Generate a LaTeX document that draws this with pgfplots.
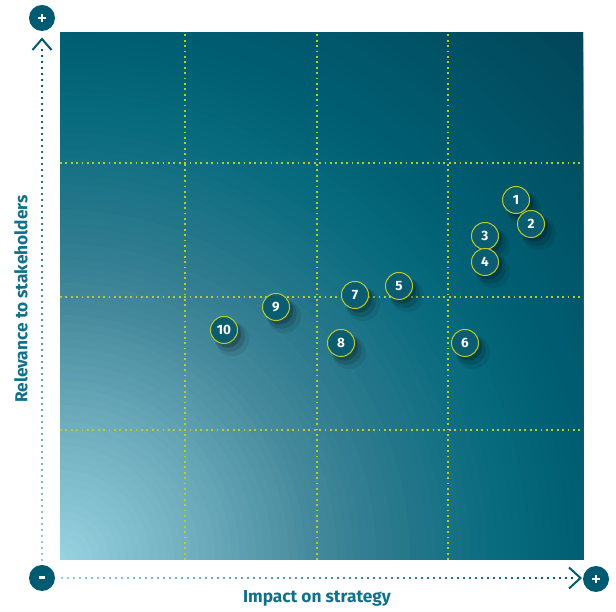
\documentclass[border=0pt]{standalone}
\usepackage{pgfplots}
\pgfplotsset{compat=1.18}
\usepackage{pgfplotstable}
\usepackage{fontspec}
\setmainfont{Fira Sans}
\usetikzlibrary{shadows}
\definecolor{sA}{HTML}{98D4E2}
\definecolor{sB}{HTML}{72B0C0}
\definecolor{sC}{HTML}{43899B}
\definecolor{sD}{HTML}{2E7B8F}
\definecolor{sE}{HTML}{086B7E}
\definecolor{sF}{HTML}{005F73}
\definecolor{sG}{HTML}{024458}
\definecolor{gridc}{HTML}{B9CC2A}
\definecolor{dotc}{HTML}{0A5C70}
\definecolor{ringc}{HTML}{BFCB26}
\definecolor{labc}{HTML}{10718A}
\definecolor{darkc}{HTML}{005B70}
\definecolor{lightc}{HTML}{8FCFDC}

% ring-by-ring radial gradient from the lower left corner of the plot area
\newcommand\ringgrad[5]{%
  \foreach \j in {0,...,#5}{%
    \pgfmathsetmacro\rr{#1-(#1-#2)*\j/#5}%
    \pgfmathsetmacro\pp{100*\j/#5}%
    \fill[#4!\pp!#3] (0,0) circle [radius=\rr*523pt];%
  }%
}

\pgfplotstableread{
x y label
516 412 1
531 388 2
485 376 3
485 350 4
399 326 5
465 269 6
355 317 7
341 269 8
276 305 9
224 282 10
}\topics

\begin{document}
\begin{tikzpicture}
\begin{scope}
  \clip (0,0) rectangle (523pt,527pt);
  \ringgrad{1.45}{1.0}{sG}{sF}{24}
  \ringgrad{1.0}{0.85}{sF}{sE}{10}
  \ringgrad{0.85}{0.62}{sE}{sD}{14}
  \ringgrad{0.62}{0.5}{sD}{sC}{8}
  \ringgrad{0.5}{0.25}{sC}{sB}{16}
  \ringgrad{0.25}{0.0}{sB}{sA}{16}
\end{scope}
\begin{axis}[
  at={(0,0)}, anchor=south west,
  scale only axis, width=523pt, height=527pt,
  xmin=60, xmax=583, ymin=52, ymax=579,
  axis line style={draw=none},
  xtick={185,317,448}, ytick={182,315,449},
  xticklabels={}, yticklabels={},
  major tick length=0pt,
  grid=major,
  major grid style={gridc, line width=1.8pt, dash pattern=on 1.8pt off 3.6pt},
  clip=false,
]
\coordinate (O) at (axis cs:0,0);
\addplot[draw=none, mark=none, nodes near coords, point meta=explicit symbolic,
  every node near coord/.style={anchor=center, circle, minimum size=27pt, inner sep=0pt,
    fill=dotc, draw=ringc, line width=1pt, text=white,
    font=\bfseries\fontsize{13.5}{13.5}\selectfont,
    drop shadow={shadow xshift=6.5pt, shadow yshift=-7.5pt, shadow scale=1.25, opacity=0.08, fill=black},
    drop shadow={shadow xshift=5pt, shadow yshift=-6pt, shadow scale=1.12, opacity=0.13, fill=black},
    drop shadow={shadow xshift=3.5pt, shadow yshift=-4pt, opacity=0.2, fill=black}}]
  table[x=x, y=y, meta=label]{\topics};
\end{axis}
\begin{scope}[shift={(O)}, x=1pt, y=1pt]
  \path (0,0) rectangle (616,612);
  % vertical dotted axis arrow
  \foreach \k in {0,...,85} {
    \pgfmathsetmacro\p{\k/85*100}
    \fill[darkc!\p!lightc] (41,{51+6*\k}) rectangle ++(2,2);
  }
  \foreach \k in {0,...,85} {
    \pgfmathsetmacro\p{\k/85*100}
    \fill[darkc!\p!lightc] ({61+6*\k},33) rectangle ++(2,2);
  }
  \draw[darkc, line width=2pt] (32.5,562) -- (42,573) -- (51.5,562);
  \draw[darkc, line width=2pt] (569,44.5) -- (580.5,34) -- (569,23.5);
  % plus / minus circles
  \fill[darkc] (42,594) circle (13);
  \draw[white, line width=2pt] (38,594) -- (46,594) (42,590) -- (42,598);
  \fill[darkc] (42,34) circle (13);
  \fill[white] (39,32.8) rectangle (45,35.6);
  \fill[darkc] (596,33) circle (13);
  \draw[white, line width=2pt] (592,33) -- (600,33) (596,29) -- (596,37);
  % axis titles
  \node[rotate=90, text=labc, font=\bfseries\fontsize{17.3}{18}\selectfont] at (21,313) {Relevance to stakeholders};
  \node[text=labc, font=\bfseries\fontsize{17.3}{18}\selectfont] at (317,13.5) {Impact on strategy};
\end{scope}
\end{tikzpicture}
\end{document}
